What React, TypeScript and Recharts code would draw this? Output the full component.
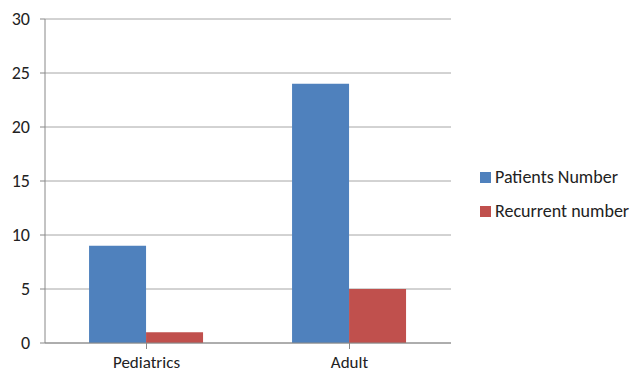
import { BarChart, Bar, XAxis, YAxis, CartesianGrid } from "recharts";

const categories = ["Pediatrics", "Adult"];
const patientsNumber = [9, 24];
const recurrentNumber = [1, 5];
const yTicks = [0, 5, 10, 15, 20, 25, 30];

const data = categories.map((name, i) => ({
  name,
  patients: patientsNumber[i],
  recurrent: recurrentNumber[i],
}));

const font = "Carlito, 'Open Sans', 'Liberation Sans', sans-serif";

const legendItems = [
  { label: "Patients Number", color: "#4F81BD" },
  { label: "Recurrent number", color: "#C0504D" },
];

export default function App() {
  return (
    <div style={{ position: "absolute", left: 0, top: 0, width: 631, height: 372, background: "#fff" }}>
      <BarChart
        width={631}
        height={372}
        data={data}
        margin={{ top: 19, right: 180, bottom: 0, left: 0 }}
        barCategoryGap="21.7%"
        barGap={0}
      >
        <CartesianGrid vertical={false} stroke="#a6a6a6" />
        <XAxis
          dataKey="name"
          height={29}
          stroke="#888"
          tickSize={6}
          tick={{ fontSize: 17, fill: "#222", fontFamily: font }}
          tickMargin={7}
        />
        <YAxis
          domain={[0, 30]}
          ticks={yTicks}
          width={45}
          stroke="#888"
          tickSize={5}
          tickMargin={10}
          tick={{ fontSize: 18, fill: "#222", fontFamily: font }}
        />
        <Bar dataKey="patients" name="Patients Number" fill="#4F81BD" isAnimationActive={false} />
        <Bar dataKey="recurrent" name="Recurrent number" fill="#C0504D" isAnimationActive={false} />
      </BarChart>
      <div style={{ position: "absolute", left: 480, top: 166, fontFamily: font, fontSize: 18, color: "#222" }}>
        {legendItems.map((it, i) => (
          <div key={it.label} style={{ display: "flex", alignItems: "center", height: 22, marginTop: i === 0 ? 0 : 12 }}>
            <span style={{ width: 11, height: 11, background: it.color, display: "inline-block", marginRight: 4 }} />
            <span>{it.label}</span>
          </div>
        ))}
      </div>
    </div>
  );
}
